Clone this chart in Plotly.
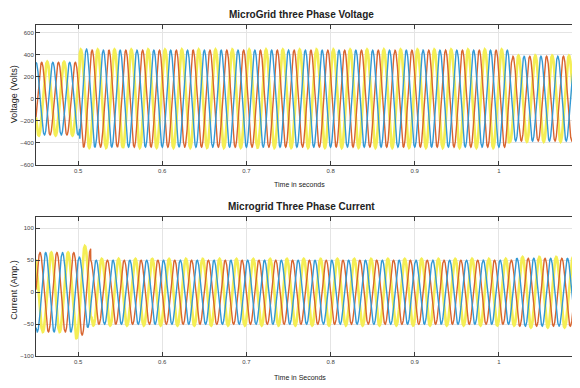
import numpy as np
import plotly.graph_objects as go

# ---- data ----
FREQ_HZ = 50.0
T_RANGE = [0.45, 1.0952]

# peak times of each phase near the start (s)
V_PEAK_T = {"blue": 0.450, "orange": 0.4567, "yellow": 0.4633}
I_PEAK_T = {"blue": 0.4615, "orange": 0.4548, "yellow": 0.4481}

# amplitude envelopes (segment boundaries in s, peak amplitude per segment)
V_SEG_T = [0.45, 0.502, 0.512, 1.012, 1.10]
V_AMP_BLUE = [330, 450, 440, 385]
V_AMP_ORANGE = [330, 440, 440, 385]
V_AMP_YELLOW = [335, 445, 445, 390]

I_SEG_T = [0.45, 0.497, 0.515, 1.02, 1.10]
I_AMP_BLUE = [62, 55, 50, 53]
I_AMP_ORANGE = [62, 67, 50, 53]
I_AMP_YELLOW = [62, 72, 52, 55]

V_TICKS = [-600, -400, -200, 0, 200, 400, 600]
I_TICKS = [-100, -50, 0, 50, 100]
X_TICKS = [0.5, 0.6, 0.7, 0.8, 0.9, 1.0]
X_LABELS = ["0.5", "0.6", "0.7", "0.8", "0.9", "1"]

COLORS = {"blue": "#3399D4", "orange": "#D8652F", "yellow": "#F4EE55"}
WIDTHS = {"blue": 1.4, "orange": 1.4, "yellow": 2.7}

t = np.linspace(T_RANGE[0], T_RANGE[1], 5000)


def envelope(seg_t, amps):
    idx = np.clip(np.searchsorted(seg_t, t, side="right") - 1, 0, len(amps) - 1)
    return np.asarray(amps, dtype=float)[idx]


def wave(seg_t, amps, t_peak):
    return envelope(seg_t, amps) * np.cos(2 * np.pi * FREQ_HZ * (t - t_peak))


fig = go.Figure()
v_amps = {"blue": V_AMP_BLUE, "orange": V_AMP_ORANGE, "yellow": V_AMP_YELLOW}
i_amps = {"blue": I_AMP_BLUE, "orange": I_AMP_ORANGE, "yellow": I_AMP_YELLOW}
for ph in ["yellow", "orange", "blue"]:
    fig.add_trace(go.Scatter(x=t, y=wave(V_SEG_T, v_amps[ph], V_PEAK_T[ph]), mode="lines",
                             line=dict(color=COLORS[ph], width=WIDTHS[ph]),
                             xaxis="x", yaxis="y", showlegend=False))
for ph in ["yellow", "orange", "blue"]:
    fig.add_trace(go.Scatter(x=t, y=wave(I_SEG_T, i_amps[ph], I_PEAK_T[ph]), mode="lines",
                             line=dict(color=COLORS[ph], width=WIDTHS[ph]),
                             xaxis="x2", yaxis="y2", showlegend=False))

# page has an 8 px body margin; figure occupies page x 8..580, y 8..388
OFF = 8
W, H = 580 - OFF, 388 - OFF
L = 36 - OFF


def fy(p):  # page y pixel -> paper fraction
    return 1 - (p - OFF) / H


axis_common = dict(showline=True, linecolor="#3a3a3a", linewidth=1, mirror="ticks",
                   ticks="inside", ticklen=4, tickcolor="#3a3a3a",
                   showgrid=True, gridcolor="#e4e4e4", gridwidth=1, zeroline=False,
                   tickfont=dict(family="Liberation Sans", size=6, color="#444"))

fig.update_layout(
    width=W, height=H,
    margin=dict(l=L, r=0, t=0, b=0),
    paper_bgcolor="white", plot_bgcolor="white",
    xaxis=dict(domain=[0, 1], anchor="y", range=T_RANGE, tickvals=X_TICKS, ticktext=X_LABELS, **axis_common),
    yaxis=dict(domain=[fy(166), fy(25)], anchor="x", range=[-600, 670], tickvals=V_TICKS, **axis_common),
    xaxis2=dict(domain=[0, 1], anchor="y2", range=T_RANGE, tickvals=X_TICKS, ticktext=X_LABELS, **axis_common),
    yaxis2=dict(domain=[fy(359), fy(219)], anchor="x2", range=[-100, 117], tickvals=I_TICKS, **axis_common),
)

ann_font = dict(family="Liberation Sans", color="#222")
texts = [
    ("<b>MicroGrid three Phase Voltage</b>", 302, 15, 0, 10),
    ("<b>Microgrid Three Phase Current</b>", 302, 208, 0, 10),
    ("Time in seconds", 300, 186, 0, 7),
    ("Time in Seconds", 300, 380, 0, 7),
    ("Voltage (Volts)", 14, 95, -90, 9),
    ("Current (Amp.)", 14, 292, -90, 9),
]
for txt, px, py, ang, sz in texts:
    fig.add_annotation(text=txt, xref="paper", yref="paper",
                       x=(px - OFF - L) / (W - L), y=fy(py),
                       xanchor="center", yanchor="middle", showarrow=False,
                       textangle=ang, font=dict(size=sz, **ann_font))

fig.write_html("out.html")
